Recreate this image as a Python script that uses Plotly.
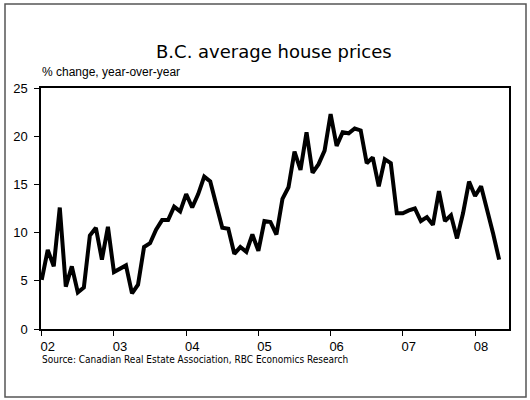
import plotly.graph_objects as go

# Monthly data, Jan 2002 .. May 2008 (% change, year-over-year)
start_year = 2002
values = [
    5.1, 8.2, 6.5, 12.6, 4.4, 6.5, 3.8, 4.3, 9.7, 10.5, 7.2, 10.6,   # 2002
    5.9, 6.2, 6.6, 3.7, 4.6, 8.5, 8.9, 10.3, 11.3, 11.3, 12.7, 12.2,  # 2003
    14.0, 12.6, 14.0, 15.8, 15.3, 12.9, 10.5, 10.4, 7.8, 8.5, 8.0, 9.8,  # 2004
    8.1, 11.2, 11.1, 9.8, 13.5, 14.7, 18.4, 16.5, 20.4, 16.2, 17.1, 18.5,  # 2005
    22.3, 19.0, 20.4, 20.3, 20.8, 20.6, 17.2, 17.8, 14.8, 17.6, 17.2, 12.0,  # 2006
    12.0, 12.3, 12.5, 11.2, 11.6, 10.8, 14.3, 11.2, 11.8, 9.4, 12.0, 15.3,  # 2007
    13.8, 14.8, 12.5, 9.9, 7.2,  # 2008
]
x_vals = [start_year + i / 12 for i in range(len(values))]

tick_years = [2002, 2003, 2004, 2005, 2006, 2007, 2008]
tick_labels = ["02", "03", "04", "05", "06", "07", "08"]
y_ticks = [0, 5, 10, 15, 20, 25]

title_text = "B.C. average house prices"
subtitle_text = "% change, year-over-year"
source_text = "Source: Canadian Real Estate Association, RBC Economics Research"

narrow = "DejaVu Sans Condensed, Liberation Sans, sans-serif"

fig = go.Figure()
fig.add_trace(go.Scatter(
    x=x_vals, y=values, mode="lines",
    line=dict(color="black", width=4),
    hoverinfo="skip", showlegend=False,
))

L, R, T, B = 41, 21, 88, 71
W, H = 530, 400
pw, ph = W - L - R, H - T - B

def px_x(px):
    return (px - L) / pw

def px_y(py):
    return (H - B - py) / ph

fig.update_layout(
    width=W, height=H,
    margin=dict(l=L, r=R, t=T, b=B, pad=0),
    paper_bgcolor="white", plot_bgcolor="white",
    showlegend=False,
    xaxis=dict(
        range=[2001.99, 2008.47],
        tickvals=tick_years, ticktext=tick_labels,
        ticks="outside", ticklen=5, tickcolor="black", tickwidth=1,
        showline=True, linecolor="black", linewidth=1.5, mirror=True,
        showgrid=False, zeroline=False,
        tickfont=dict(family="Liberation Sans", size=13, color="black"),
        ticklabelshift=6, ticklabelstandoff=0,
    ),
    yaxis=dict(
        range=[0, 25], tickvals=y_ticks,
        ticks="outside", ticklen=5, tickcolor="black", tickwidth=1,
        showline=True, linecolor="black", linewidth=1.5, mirror=True,
        showgrid=False, zeroline=False,
        tickfont=dict(family="Liberation Sans", size=13, color="black"),
        ticklabelstandoff=4,
    ),
    shapes=[dict(
        type="rect", xref="paper", yref="paper",
        x0=px_x(5), x1=px_x(526), y0=px_y(397), y1=px_y(4),
        line=dict(color="#555555", width=1.5), fillcolor="rgba(0,0,0,0)",
        layer="below",
    )],
    annotations=[
        dict(text=title_text, xref="paper", yref="paper",
             x=px_x(274), y=px_y(51), xanchor="center", yanchor="middle",
             showarrow=False,
             font=dict(family="DejaVu Sans", size=18, color="black")),
        dict(text=subtitle_text, xref="paper", yref="paper",
             x=px_x(40), y=px_y(72), xanchor="left", yanchor="middle",
             showarrow=False,
             font=dict(family="Liberation Sans", size=12, color="black")),
        dict(text=source_text, xref="paper", yref="paper",
             x=px_x(40), y=px_y(359), xanchor="left", yanchor="middle",
             showarrow=False,
             font=dict(family=narrow, size=10, color="black")),
    ],
)

fig.write_html("out.html", config={"displayModeBar": False},
               post_script="document.body.style.margin='0px';")
